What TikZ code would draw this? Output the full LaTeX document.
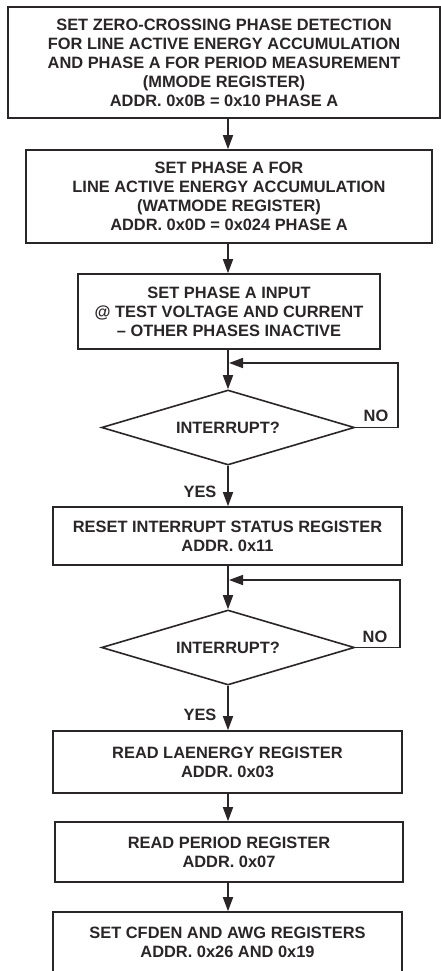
\documentclass[tikz,border=0pt]{standalone}
\usepackage{fontspec}
\setmainfont{Liberation Sans}
\usetikzlibrary{shapes.geometric,arrows.meta}
\definecolor{ink}{HTML}{2A2627}
\begin{document}
\begin{tikzpicture}[x=1pt,y=-1pt,
  every node/.style={font=\bfseries\fontsize{16.4}{19}\selectfont, text=ink},
  box/.style={draw=ink, line width=1.6pt, rectangle, align=center, inner sep=0pt},
  dec/.style={draw=ink, line width=1.6pt, diamond, shape aspect=3.37, inner sep=0pt, minimum width=253pt, minimum height=75pt},
  flow/.style={draw=ink, line width=1.6pt, -{Triangle[length=14pt,width=10pt]}},
  lbl/.style={inner sep=0pt}]
\useasboundingbox[fill=white] (0,0) rectangle (441,971);
\coordinate (sp) at (228,0);
\node[box, minimum width=432pt, minimum height=111pt] (b1) at (224,62.5)
  {SET ZERO-CROSSING PHASE DETECTION\\FOR LINE ACTIVE ENERGY ACCUMULATION\\AND PHASE A FOR PERIOD MEASUREMENT\\(MMODE REGISTER)\\ADDR. 0x0B = 0x10 PHASE A};
\node[box, minimum width=406pt, minimum height=93pt] (b2) at (229,196.5)
  {SET PHASE A FOR\\LINE ACTIVE ENERGY ACCUMULATION\\(WATMODE REGISTER)\\ADDR. 0x0D = 0x024 PHASE A};
\node[box, minimum width=302pt, minimum height=75pt] (b3) at (229,311.5)
  {SET PHASE A INPUT\\@ TEST VOLTAGE AND CURRENT\\-- OTHER PHASES INACTIVE};
\node[dec] (d1) at (228,427.5) {INTERRUPT?};
\node[box, minimum width=349pt, minimum height=58pt] (b4) at (227.5,536)
  {RESET INTERRUPT STATUS REGISTER\\ADDR. 0x11};
\node[dec] (d2) at (228,647.5) {INTERRUPT?};
\node[box, minimum width=349pt, minimum height=62pt] (b5) at (227.5,762)
  {READ LAENERGY REGISTER\\ADDR. 0x03};
\node[box, minimum width=348pt, minimum height=60pt] (b6) at (229,852)
  {READ PERIOD REGISTER\\ADDR. 0x07};
\node[box, minimum width=349pt, minimum height=60pt] (b7) at (227.5,942)
  {SET CFDEN AND AWG REGISTERS\\ADDR. 0x26 AND 0x19};
\node[lbl] (no1) at (376,416) {NO};
\node[lbl] (no2) at (375,637) {NO};
\node[lbl] (yes1) at (200,492) {YES};
\node[lbl] (yes2) at (200,715) {YES};
\coordinate (r1) at (398,363);
\coordinate (j1) at (229,363);
\coordinate (r2) at (400,580);
\coordinate (j2) at (229,580);
\draw[flow] (b1.south -| sp) -- (b2.north -| sp);
\draw[flow] (b2.south -| sp) -- (b3.north -| sp);
\draw[flow] (b3.south -| sp) -- (d1.north);
\draw[flow] (d1.south) -- (b4.north -| sp);
\draw[flow] (b4.south -| sp) -- (d2.north);
\draw[flow] (d2.south) -- (b5.north -| sp);
\draw[flow] (b5.south -| sp) -- (b6.north -| sp);
\draw[flow] (b6.south -| sp) -- (b7.north -| sp);
\draw[flow] (d1.east) -| (r1) -- (j1);
\draw[flow] (d2.east) -| (r2) -- (j2);
\end{tikzpicture}
\end{document}
